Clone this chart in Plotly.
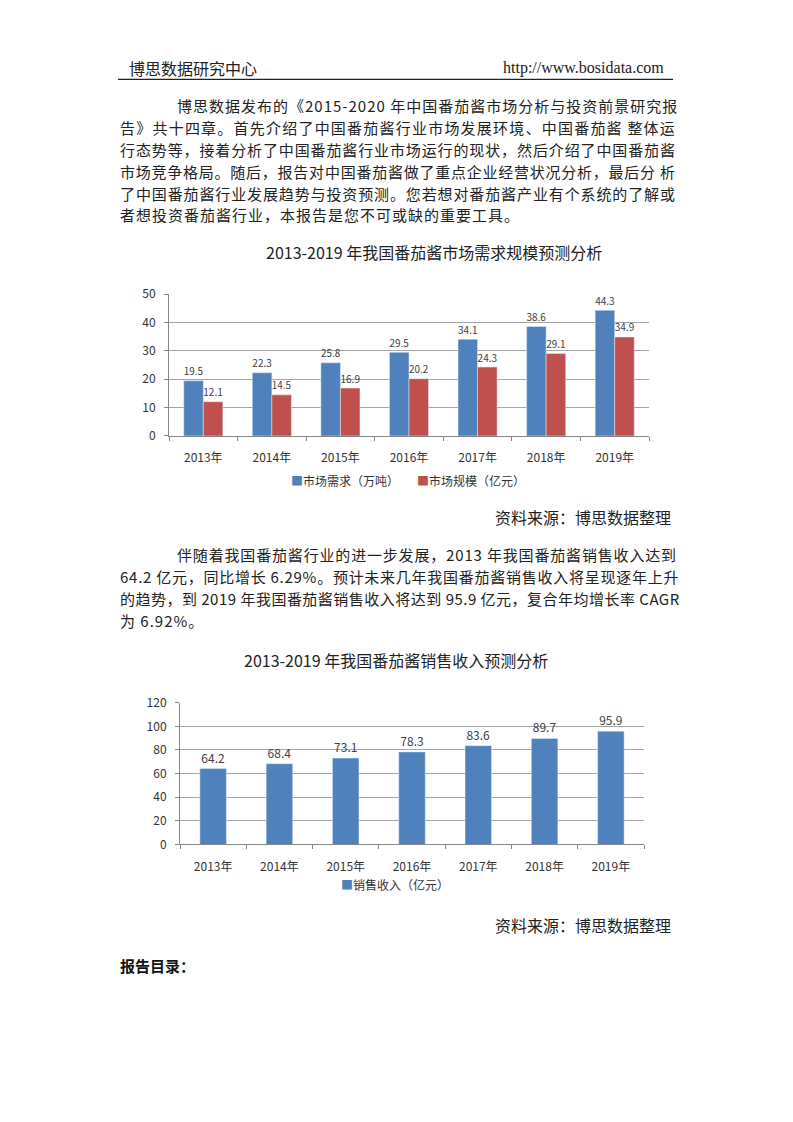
import plotly.graph_objects as go

# page is 793x1122; the figure sits 8px in from the left, and the picture comes back
# with the figure starting ~17.5px down and squeezed a little vertically
PAGE_W = 793
LEFT = 8
Y0, KY = 17.5, 0.9856
W, H = PAGE_W - 2 * LEFT, 1090

years = ["2013年", "2014年", "2015年", "2016年", "2017年", "2018年", "2019年"]
demand = [19.5, 22.3, 25.8, 29.5, 34.1, 38.6, 44.3]   # 市场需求（万吨）
scale = [12.1, 14.5, 16.9, 20.2, 24.3, 29.1, 34.9]    # 市场规模（亿元）
revenue = [64.2, 68.4, 73.1, 78.3, 83.6, 89.7, 95.9]  # 销售收入（亿元）

para1 = [
    "博思数据发布的《2015-2020 年中国番茄酱市场分析与投资前景研究报",
    "告》共十四章。首先介绍了中国番茄酱行业市场发展环境、中国番茄酱 整体运",
    "行态势等，接着分析了中国番茄酱行业市场运行的现状，然后介绍了中国番茄酱",
    "市场竞争格局。随后，报告对中国番茄酱做了重点企业经营状况分析，最后分 析",
    "了中国番茄酱行业发展趋势与投资预测。您若想对番茄酱产业有个系统的了解或",
    "者想投资番茄酱行业，本报告是您不可或缺的重要工具。",
]
para2 = [
    "伴随着我国番茄酱行业的进一步发展，2013 年我国番茄酱销售收入达到",
    "64.2 亿元，同比增长 6.29%。预计未来几年我国番茄酱销售收入将呈现逐年上升",
    "的趋势，到 2019 年我国番茄酱销售收入将达到 95.9 亿元，复合年均增长率 CAGR",
    "为 6.92%。",
]

BODY = "Noto Sans CJK SC"
CHART = "Noto Sans CJK SC"
BLUE = "#4F81BD"
RED = "#C0504D"
GRID = "#A6A6A6"
INK = "#222222"
LBL = "#404040"


def px(x):
    return (x - LEFT) / W


def py(y):
    return 1 - ((y - Y0) / KY) / H


def est_width(s, size):
    # rough advance widths of Noto Sans CJK SC, in em
    w = 0
    for ch in s:
        if ord(ch) >= 0x2E80:
            w += 1.0
        elif ch.isdigit():
            w += 0.54
        elif ch == " ":
            w += 0.224
        elif ch == "-":
            w += 0.33
        elif ch == ".":
            w += 0.25
        elif ch == "%":
            w += 0.83
        elif ch.isupper():
            w += 0.6
        else:
            w += 0.5
    return w * size


fig = go.Figure()

fig.add_trace(go.Bar(
    x=years, y=demand, name="市场需求（万吨）",
    marker=dict(color=BLUE), text=[f"{v:.1f}" for v in demand],
    textposition="outside", cliponaxis=False,
    textfont=dict(size=12, color=LBL, family=CHART),
    xaxis="x", yaxis="y", showlegend=False
))
fig.add_trace(go.Bar(
    x=years, y=scale, name="市场规模（亿元）",
    marker=dict(color=RED), text=[f"{v:.1f}" for v in scale],
    textposition="outside", cliponaxis=False,
    textfont=dict(size=12, color=LBL, family=CHART),
    xaxis="x", yaxis="y", showlegend=False
))
fig.add_trace(go.Bar(
    x=years, y=revenue, name="销售收入（亿元）",
    marker=dict(color=BLUE), text=[f"{v:.1f}" for v in revenue],
    textposition="outside", cliponaxis=False,
    textfont=dict(size=12, color=LBL, family=CHART),
    xaxis="x2", yaxis="y2", showlegend=False, width=0.4
))

axis_font = dict(size=12, color="#333333", family=CHART)
xcommon = dict(showgrid=False, showline=True, linecolor="#868686",
               ticks="outside", tickson="boundaries", ticklen=4,
               tickcolor="#868686", tickfont=axis_font, ticklabelstandoff=11)
ycommon = dict(showgrid=True, gridcolor=GRID, gridwidth=1, showline=True,
               linecolor="#868686", ticks="outside", ticklen=4,
               tickcolor="#868686", tickfont=axis_font, zeroline=False,
               ticklabelstandoff=6)

fig.update_layout(
    width=W, height=H, margin=dict(l=0, r=0, t=0, b=0),
    paper_bgcolor="white", plot_bgcolor="white",
    barmode="group", bargap=0.43, bargroupgap=0,
    xaxis=dict(domain=[px(169), px(649)], anchor="y", **xcommon),
    yaxis=dict(domain=[py(436), py(294)], anchor="x", range=[0, 50], dtick=10, **ycommon),
    xaxis2=dict(domain=[px(180), px(644)], anchor="y2", **xcommon),
    yaxis2=dict(domain=[py(845), py(703)], anchor="x2", range=[0, 120], dtick=20, **ycommon),
)


def note(text, x, y, size, xanchor="left", family=BODY, color=INK):
    fig.add_annotation(text=text, x=px(x), y=py(y), xref="paper", yref="paper",
                       xanchor=xanchor, yanchor="middle", showarrow=False, align="left",
                       font=dict(size=size, color=color, family=family))


def paragraph(lines, ys, size=15, indent_x=175, left=118, right=673):
    for i, (line, yy) in enumerate(zip(lines, ys)):
        x0 = indent_x if i == 0 else left
        if i < len(lines) - 1:
            # stretch the line to the right margin, like justified text
            ls = (right - x0 - est_width(line, size)) / max(len(line) - 1, 1)
        else:
            ls = 1.0
        ls = max(ls, 0)
        note(f"<span style='letter-spacing:{ls:.2f}px'>{line}</span>", x0, yy, size)


# header
note("博思数据研究中心", 127, 68, 16)
note("http://www.bosidata.com", 666, 68, 16, xanchor="right", family="Liberation Serif")
fig.add_shape(type="line", xref="paper", yref="paper", x0=px(118), x1=px(673),
              y0=py(79), y1=py(79), line=dict(color=INK, width=1.2))

paragraph(para1, [105, 127, 149, 171, 193, 214])
paragraph(para2, [555, 577, 599, 621])

note("2013-2019 年我国番茄酱市场需求规模预测分析", 434, 252, 16, xanchor="center")
note("2013-2019 年我国番茄酱销售收入预测分析", 396, 660, 16, xanchor="center")

# legends
note(f"<span style='color:{BLUE}'>■</span>市场需求（万吨）\u3000\u3000"
     f"<span style='color:{RED}'>■</span>市场规模（亿元）", 408, 481, 12,
     xanchor="center", family=CHART, color="#333333")
note(f"<span style='color:{BLUE}'>■</span>销售收入（亿元）", 395, 885, 12,
     xanchor="center", family=CHART, color="#333333")

note("资料来源：博思数据整理", 673, 517, 16, xanchor="right")
note("资料来源：博思数据整理", 673, 926, 16, xanchor="right")
note("<b>报告目录：</b>", 118, 966, 15, color="#111111")

fig.write_html("out.html")
